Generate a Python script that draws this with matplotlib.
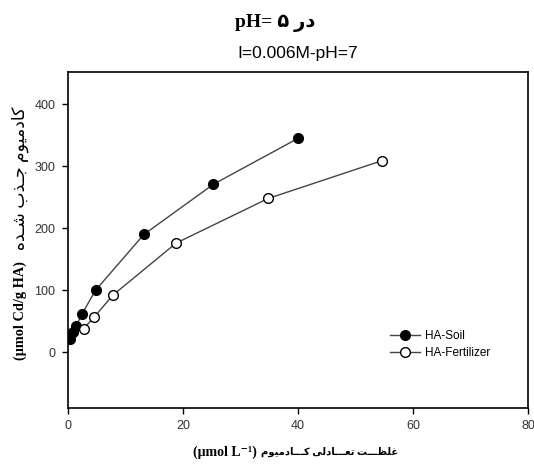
import matplotlib
matplotlib.use("Agg")
import matplotlib.pyplot as plt

# data
soil_x = [0.4, 0.8, 1.4, 2.4, 4.8, 13.2, 25.3, 40.0]
soil_y = [21, 32, 42, 61, 100, 190, 271, 345]
fert_x = [2.7, 4.5, 7.8, 18.8, 34.8, 54.6]
fert_y = [38, 56, 92, 176, 248, 309]
series_names = ["HA-Soil", "HA-Fertilizer"]
x_ticks = [0, 20, 40, 60, 80]
y_ticks = [0, 100, 200, 300, 400]

# persian text, shaped by hand (presentation forms, visual order)
title_fa = "pH= \u06f5 " + "\ufead\ufea9"
subtitle = "I=0.006M-pH=7"
kadmiyum = "\ufee1\ufeee\ufbff\ufee3\ufea9\ufe8e\ufb90"
jazb = "\ufe8f\ufeac\u0640\ufe9f"
shode = "\ufee9\ufeaa\u0640\ufeb7"
ylabel_unit = "(\u03bcmol Cd/g HA)"
ylabel_fa = shode + " " + jazb + " " + kadmiyum
ghelzat = "\ufe96\u0640\u0640\u0640\ufec8\ufee0\ufecf"
taadoli = "\ufbfd\ufedf\ufea9\ufe8e\u0640\u0640\u0640\ufecc\ufe97"
kadmiyum_long = "\ufee1\ufeee\ufbff\ufee3\ufea9\ufe8e\u0640\u0640\u0640\ufb90"
xlabel_unit = "(\u03bcmol L\u207b\u00b9)"
xlabel_fa = kadmiyum_long + " " + taadoli + " " + ghelzat

serif_fa = ["Liberation Serif", "DejaVu Sans"]

fig = plt.figure(figsize=(5.34, 4.71), dpi=100)
ax = fig.add_axes([0.1273, 0.1338, 0.8615, 0.7132])

ax.plot(soil_x, soil_y, color="#444444", lw=1.0, marker="o", ms=7,
        mfc="black", mec="black", label=series_names[0])
ax.plot(fert_x, fert_y, color="#444444", lw=1.0, marker="o", ms=7,
        mfc="white", mec="black", label=series_names[1])

ax.set_xlim(0, 80)
ax.set_ylim(-90, 452)
ax.set_xticks(x_ticks)
ax.set_yticks(y_ticks)
ax.tick_params(direction="out", length=4, width=1, labelsize=9, pad=5)
for lab in ax.get_xticklabels() + ax.get_yticklabels():
    lab.set_fontfamily("Liberation Sans")
    lab.set_color("#333333")
for sp in ax.spines.values():
    sp.set_linewidth(1.2)

leg = ax.legend(loc="lower right", bbox_to_anchor=(0.94, 0.115), frameon=False,
                prop={"family": "Liberation Sans", "size": 8.5},
                handlelength=2.5, handletextpad=0.4, labelspacing=0.4)

fig.text(0.515, 1 - 23 / 471, title_fa, ha="center", va="center",
         family=serif_fa, fontweight="bold", fontsize=14)
fig.text(0.558, 0.887, subtitle, ha="center", va="center",
         family="Liberation Sans", fontsize=12.5)

# y label: unit at the bottom, persian above it
fig.text(0.038, 1 - 311 / 471, ylabel_unit, ha="center", va="center", rotation=90,
         family=serif_fa, fontweight="bold", fontsize=10.3)
fig.text(0.038, 1 - 178 / 471, ylabel_fa, ha="center", va="center", rotation=90,
         family=serif_fa, fontsize=12.5)

# x label: unit at the left, persian to the right
fig.text(225 / 534, 1 - 452 / 471, xlabel_unit, ha="center", va="center",
         family=serif_fa, fontweight="bold", fontsize=10)
fig.text(330 / 534, 1 - 452 / 471, xlabel_fa, ha="center", va="center",
         family=serif_fa, fontweight="bold", fontsize=7.2)

fig.savefig("out.png", dpi=100)
